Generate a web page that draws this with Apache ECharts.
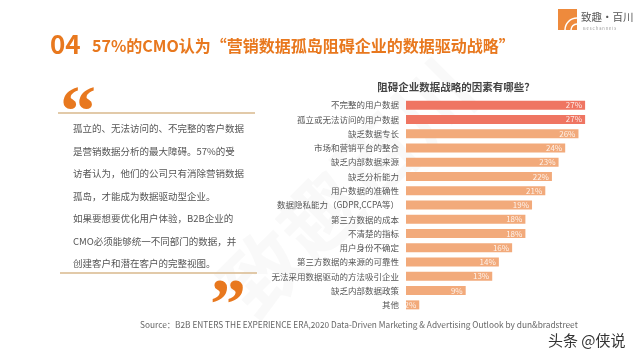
<!DOCTYPE html>
<html>
<head>
<meta charset="utf-8">
<script src="https://cdn.jsdelivr.net/npm/echarts@6/dist/echarts.min.js"></script>
<style>html,body{margin:0;padding:0;background:#fff}#c{width:640px;height:360px}</style>
</head>
<body>
<div id="c"></div>
<script>
const categories = ['不完整的用户数据','孤立或无法访问的用户数据','缺乏数据专长','市场和营销平台的整合','缺乏内部数据来源','缺乏分析能力','用户数据的准确性','数据隐私能力（GDPR,CCPA等）','第三方数据的成本','不清楚的指标','用户身份不确定','第三方数据的来源的可靠性','无法采用数据驱动的方法吸引企业','缺乏内部数据政策','其他'];
const values = [27,27,26,24,23,22,21,19,18,18,16,14,13,9,2];
const quoteLines = ['孤立的、无法访问的、不完整的客户数据','是营销数据分析的最大障碍。57%的受','访者认为，他们的公司只有消除营销数据','孤岛，才能成为数据驱动型企业。','如果要想要优化用户体验，B2B企业的','CMO必须能够统一不同部门的数据，并','创建客户和潜在客户的完整视图。'];
const FONT = '"Noto Sans CJK SC", "Noto Sans", sans-serif';
const ORANGE = '#E8781E';

const chart = echarts.init(document.getElementById('c'), null, {renderer:'canvas'});
const graphics = [];
// faint background watermark
graphics.push({type:'text', x:235, y:300, rotation:Math.PI/4, z:-10, style:{text:'致趣百川', font:'bold 80px '+FONT, fill:'rgba(0,0,0,0.025)', textVerticalAlign:'middle'}});
// title
graphics.push({type:'text', x:50, y:44, style:{text:'04', font:'bold 26px '+FONT, fill:ORANGE, textVerticalAlign:'middle'}});
graphics.push({type:'text', x:92, y:46, style:{text:'57%的CMO认为“营销数据孤岛阻碍企业的数据驱动战略”', font:'bold 16px '+FONT, fill:ORANGE, textVerticalAlign:'middle'}});
// logo
graphics.push({type:'rect', shape:{x:558,y:9,width:19,height:21}, style:{fill:'#EE8A3C'}});
graphics.push({type:'arc', shape:{cx:577,cy:30,r:12,startAngle:Math.PI,endAngle:Math.PI*1.5}, style:{stroke:'#fff',lineWidth:1.5,fill:null}});
graphics.push({type:'arc', shape:{cx:577,cy:30,r:6,startAngle:Math.PI,endAngle:Math.PI*1.5}, style:{stroke:'#fff',lineWidth:1.5,fill:null}});
graphics.push({type:'text', x:581, y:17, style:{text:'致趣·百川', font:'10.5px '+FONT, fill:'#555', textVerticalAlign:'middle'}});
graphics.push({type:'text', x:583, y:28, style:{text:'B e s C h a n n e l s', font:'4px '+FONT, fill:'#999', textVerticalAlign:'middle'}});
// left quote panel
graphics.push({type:'text', x:60, y:80, style:{text:'\u201C', font:'bold 72px "Liberation Serif", serif', fill:ORANGE, textVerticalAlign:'top'}});
graphics.push({type:'line', shape:{x1:58,y1:113,x2:255,y2:113}, style:{stroke:'#D8B98C', lineWidth:1.5}});
const ys = [128,151,173,196,218,241,263];
quoteLines.forEach((t,i)=>{
  graphics.push({type:'text', x:73, y:ys[i], style:{text:t, font:'9.5px '+FONT, fill:'#555', textVerticalAlign:'middle'}});
});
graphics.push({type:'line', shape:{x1:60,y1:273,x2:257,y2:273}, style:{stroke:'#D8B98C', lineWidth:1.5}});
graphics.push({type:'text', x:210, y:273, style:{text:'\u201D', font:'bold 72px "Liberation Serif", serif', fill:ORANGE, textVerticalAlign:'top'}});
// chart title
graphics.push({type:'text', x:456, y:87, style:{text:'阻碍企业数据战略的因素有哪些？', font:'bold 10.5px '+FONT, fill:'#444', textAlign:'center', textVerticalAlign:'middle'}});
// source
graphics.push({type:'text', x:140, y:325, style:{text:'Source：B2B ENTERS THE EXPERIENCE ERA,2020 Data-Driven Marketing & Advertising Outlook by dun&bradstreet', font:'8.3px '+FONT, fill:'#666', textVerticalAlign:'middle'}});
// platform watermark
graphics.push({type:'text', x:548, y:340, style:{text:'头条 @侠说', font:'15px '+FONT, fill:'#333', stroke:'#fff', lineWidth:2, textVerticalAlign:'middle'}});

chart.setOption({
  animation:false,
  backgroundColor:'#fff',
  grid:{left:406, top:98, width:199, height:214, containLabel:false},
  xAxis:{type:'value', min:0, max:30, show:false},
  yAxis:{type:'category', data:categories, inverse:true,
    axisLine:{show:false}, axisTick:{show:false},
    axisLabel:{color:'#555', fontSize:8.5, fontFamily:FONT, margin:7}},
  series:[{type:'bar', data:values.map((v,i)=>({value:v, itemStyle:{color: i<2 ? '#EF7562' : '#F2AA7B'}})),
    barWidth:9,
    label:{show:true, position:'insideRight', formatter:'{c}%', color:'rgba(255,255,255,0.85)', fontSize:8, fontFamily:FONT, distance:3}}],
  graphic:graphics
});
</script>
</body>
</html>
